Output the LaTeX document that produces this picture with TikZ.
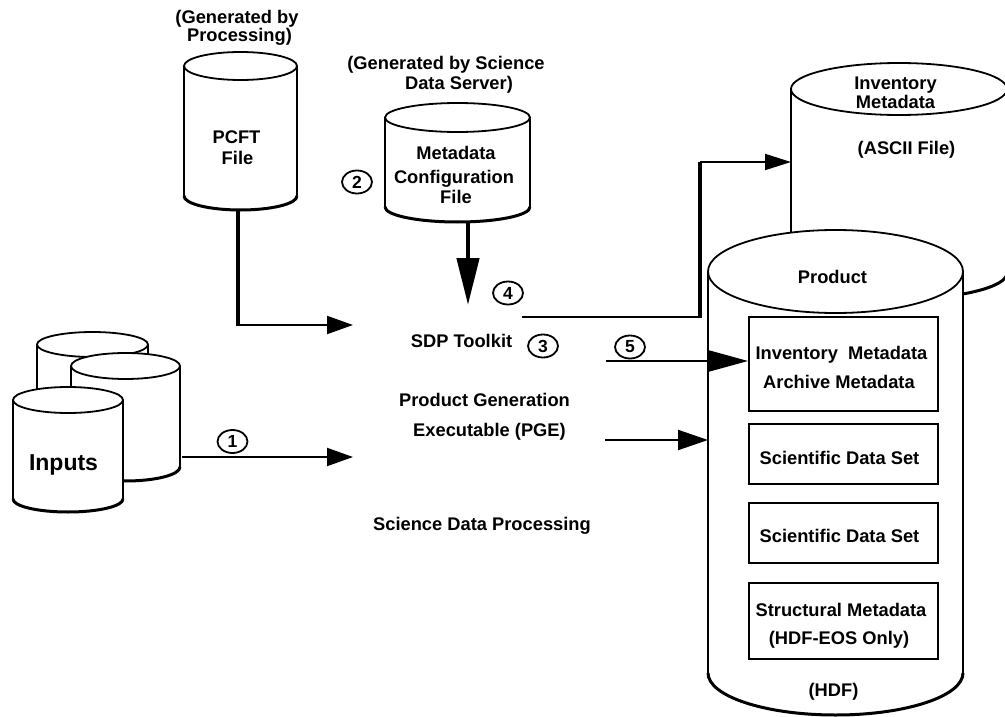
\documentclass[tikz,border=0pt]{standalone}
\usepackage{fontspec}
\setmainfont{Liberation Sans}
\usetikzlibrary{arrows.meta,shapes.geometric}
\tikzset{
 lbl/.style={font=\bfseries\fontsize{18.3pt}{20pt}\selectfont, anchor=base, inner sep=0pt},
 bigl/.style={font=\bfseries\fontsize{23pt}{26pt}\selectfont, anchor=base, inner sep=0pt},
 num/.style={ellipse, draw, line width=1.8pt, minimum width=30pt, minimum height=23pt, inner sep=0pt, font=\bfseries\fontsize{17.5pt}{19pt}\selectfont},
 cylline/.style={line width=1.8pt},
 cylbot/.style={line width=3pt},
 conn/.style={line width=2pt},
 thickconn/.style={line width=4.5pt},
 arr/.style={line width=2pt,-{Triangle[length=26pt,width=18pt]}},
 databox/.style={draw, line width=2pt, fill=white, inner sep=0pt}
}
% #1 cx, #2 rx, #3 top cy, #4 top ry, #5 bottom cy, #6 bottom ry
\newcommand\mycyl[6]{%
 \fill[white] ({#1-#2},#3) -- ({#1-#2},#5) arc[start angle=180,end angle=360,x radius=#2pt,y radius=#6pt]
   -- ({#1+#2},#3) arc[start angle=0,end angle=180,x radius=#2pt,y radius=#4pt] -- cycle;
 \draw[cylline] ({#1-#2},#3) -- ({#1-#2},#5);
 \draw[cylline] ({#1+#2},#3) -- ({#1+#2},#5);
 \draw[cylbot] ({#1-#2},#5) arc[start angle=180,end angle=360,x radius=#2pt,y radius=#6pt];
 \draw[cylline,fill=white] (#1,#3) ellipse [x radius=#2pt,y radius=#4pt];
}
\begin{document}
\begin{tikzpicture}[x=1pt,y=-1pt]
\useasboundingbox (0,0) rectangle (1005,717);
\clip (0,0) rectangle (1005,717);

% ---------- cylinders ----------
\mycyl{240.5}{56.5}{66}{14}{196}{14}      % PCFT
\mycyl{457.5}{72.5}{117.5}{14.5}{207}{15} % Metadata configuration
\mycyl{92.5}{55.5}{344.5}{12.5}{440}{13}  % inputs back
\mycyl{125.5}{54.5}{366}{13}{467}{14}     % inputs middle
\mycyl{68}{55}{400}{13}{499}{13}          % inputs front
\mycyl{899}{108}{89}{26}{273}{26}         % inventory metadata
\mycyl{835.5}{127.5}{271.5}{41.5}{673}{42}% product

% ---------- boxes in product ----------
\node[databox, minimum width=189pt, minimum height=94pt] (b1) at (843.5,364) {};
\node[databox, minimum width=189pt, minimum height=60pt] (b2) at (843.5,454) {};
\node[databox, minimum width=189pt, minimum height=60pt] (b3) at (843.5,533) {};
\node[databox, minimum width=189pt, minimum height=76pt] (b4) at (843.5,621) {};

% ---------- texts ----------
\node[lbl] (g1a) at (237,23.5) {(Generated by};
\node[lbl] (g1b) at (239.5,41.5) {Processing)};
\node[lbl] (pc1) at (236.5,143.5) {PCFT};
\node[lbl] (pc2) at (237.5,164.5) {File};
\node[lbl] (g2a) at (446,69.5) {(Generated by Science};
\node[lbl] (g2b) at (459,89.5) {Data Server)};
\node[lbl] (mc1) at (456,159.5) {Metadata};
\node[lbl] (mc2) at (454,183.5) {Configuration};
\node[lbl] (mc3) at (456,203.5) {File};
\node[lbl] (iv1) at (895.5,89.5) {Inventory};
\node[lbl] (iv2) at (895.5,108.5) {Metadata};
\node[lbl] (iv3) at (906.5,154.5) {(ASCII File)};
\node[lbl] (pr1) at (832.5,283.5) {Product};
\node[lbl] (sdp) at (461.5,347.5) {SDP Toolkit};
\node[lbl] (pg1) at (484.5,406.5) {Product Generation};
\node[lbl] (pg2) at (489.5,436.5) {Executable (PGE)};
\node[lbl] (sdproc) at (482,530) {Science Data Processing};
\node[bigl] (inp) at (63.5,470) {Inputs};
\node[lbl] (t1a) at (841.5,359.5) {Inventory~~Metadata};
\node[lbl] (t1b) at (839,388.5) {Archive Metadata};
\node[lbl] (t2) at (839.5,464.5) {Scientific Data Set};
\node[lbl] (t3) at (839.5,542.5) {Scientific Data Set};
\node[lbl] (t4a) at (841,616.5) {Structural Metadata};
\node[lbl] (t4b) at (839,644.5) {(HDF-EOS Only)};
\node[lbl] (hdf) at (833.5,696.5) {(HDF)};

% ---------- numbered markers ----------
\node[num] (n1) at (232.5,441.5) {1};
\node[num] (n2) at (357,182) {2};
\node[num] (n3) at (543,346) {3};
\node[num] (n4) at (508,293) {4};
\node[num] (n5) at (630,347) {5};

% ---------- connector points ----------
\coordinate (pcftOut) at (238,210);
\coordinate (pcftCorner) at (238,326);
\coordinate (pcftTip) at (353,325);
\coordinate (metaOut) at (468,222);
\coordinate (metaTip) at (468,305);
\coordinate (a4s) at (522,317);
\coordinate (a4c) at (700,317);
\coordinate (a4u) at (700,162);
\coordinate (invIn) at (791,162);
\coordinate (a5s) at (606,361);
\coordinate (a6s) at (605,440);
\coordinate (prodW) at (708,440);
\coordinate (a1s) at (182,457);
\coordinate (a1t) at (353,457);

% ---------- connectors ----------
\draw[thickconn] (pcftOut) -- (pcftCorner);
\draw[arr] (pcftCorner |- pcftTip) -- (pcftTip);
\draw[line width=4.5pt,-{Triangle[length=47pt,width=22pt]}] (metaOut) -- (metaTip);
\draw[conn] (a4s) -- (a4c);
\draw[thickconn] ([yshift=-1pt]a4c) -- (a4u);
\draw[line width=2pt,-{Triangle[length=26pt,width=16pt]}] (a4u) -- (invIn);
\draw[line width=2pt,-{Triangle[length=41pt,width=22pt]}] (a5s) -- (a5s -| b1.west);
\draw[line width=2pt,-{Triangle[length=30pt,width=20pt]}] (a6s) -- (prodW);
\draw[arr] (a1s) -- (a1t);
\end{tikzpicture}
\end{document}
